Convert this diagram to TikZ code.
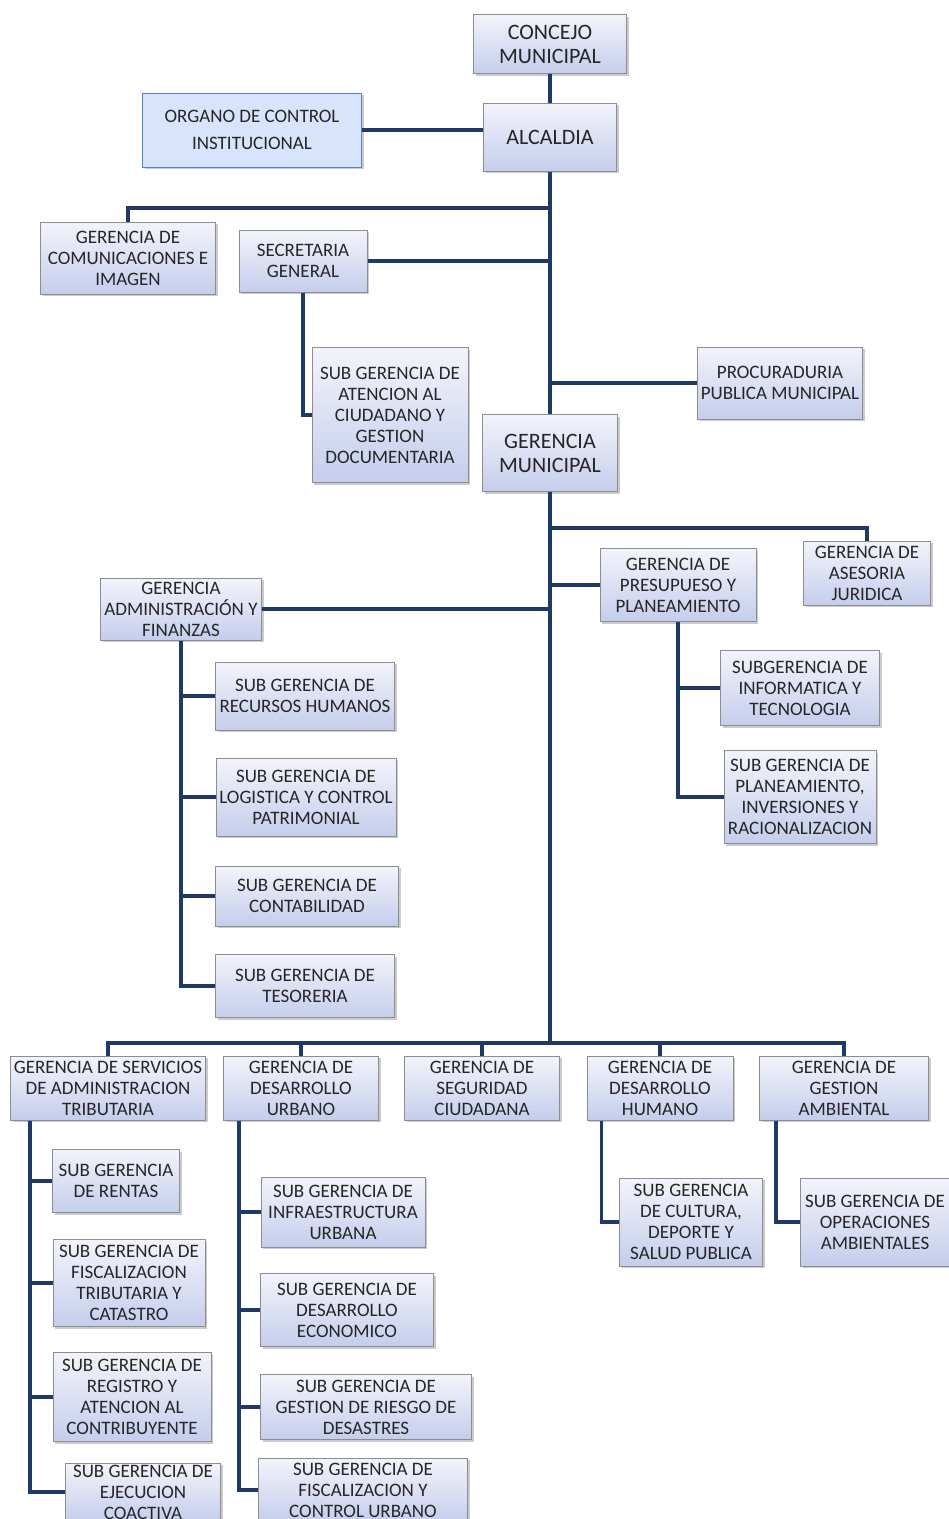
\documentclass[tikz,border=0pt]{standalone}
\usepackage{fontspec}
\setmainfont{Carlito}
\usepackage{tikz}
\usetikzlibrary{shadows}

\definecolor{navy}{RGB}{31,58,104}
\definecolor{boxtop}{RGB}{243,244,250}
\definecolor{boxbot}{RGB}{196,205,236}
\definecolor{boxline}{RGB}{140,140,145}
\definecolor{ocifill}{RGB}{216,228,251}
\definecolor{ociline}{RGB}{84,130,196}

\begin{document}
\begin{tikzpicture}[
            x = 1pt, y = -1pt, % pixel grid, top down
            line width = 3.5pt, % connector width
            semithick
        ]

        \tikzstyle{unit}=[
            draw = boxline,
            line width = 1pt,
            top color = boxtop,
            bottom color = boxbot,
            drop shadow = {shadow xshift=2pt, shadow yshift=-2pt, fill=black!40, opacity=.5},
            text = black!85,
            align = center,
            inner sep = 0pt,
            font = \fontsize{19}{21}\selectfont
        ]
        \tikzstyle{head}=[unit, font = \fontsize{22}{24}\selectfont]
        \tikzstyle{link}=[draw = navy, line width = 3.5pt]

        \clip (0,0) rectangle (949,1519);
        \fill[white] (0,0) rectangle (949,1519);

        % top of the chart
        \node[head, minimum width=153pt, minimum height=59pt] (concejo) at (550,44) {CONCEJO\\MUNICIPAL};
        \node[head, minimum width=133pt, minimum height=68pt] (alcaldia) at (550,137) {ALCALDIA};
        \node[unit, draw=ociline, top color=ocifill, bottom color=ocifill, font=\fontsize{19}{27}\selectfont,
              minimum width=219pt, minimum height=74pt] (organo) at (252,130) {ORGANO DE CONTROL\\INSTITUCIONAL};
        \node[unit, minimum width=175pt, minimum height=72pt] (comun) at (128,258) {GERENCIA DE\\COMUNICACIONES E\\IMAGEN};
        \node[unit, minimum width=128pt, minimum height=62pt] (secre) at (303,261) {SECRETARIA\\GENERAL};
        \node[unit, minimum width=156pt, minimum height=135pt] (atenc) at (390,415) {SUB GERENCIA DE\\ATENCION AL\\CIUDADANO Y\\GESTION\\DOCUMENTARIA};
        \node[unit, minimum width=165pt, minimum height=72pt] (procu) at (780,383) {PROCURADURIA\\PUBLICA MUNICIPAL};
        \node[head, minimum width=135pt, minimum height=77pt] (gmun) at (550,453) {GERENCIA\\MUNICIPAL};

        % second level
        \node[unit, minimum width=127pt, minimum height=64pt] (aseso) at (867,573) {GERENCIA DE\\ASESORIA\\JURIDICA};
        \node[unit, minimum width=156pt, minimum height=73pt] (presu) at (678,585) {GERENCIA DE\\PRESUPUESO Y\\PLANEAMIENTO};
        \node[unit, minimum width=161pt, minimum height=62pt] (admin) at (181,609) {GERENCIA\\ADMINISTRACIÓN Y\\FINANZAS};
        \node[unit, minimum width=159pt, minimum height=75pt] (infor) at (800,688) {SUBGERENCIA DE\\INFORMATICA Y\\TECNOLOGIA};
        \node[unit, minimum width=152pt, minimum height=93pt] (plane) at (800,797) {SUB GERENCIA DE\\PLANEAMIENTO,\\INVERSIONES Y\\RACIONALIZACION};
        \node[unit, minimum width=179pt, minimum height=68pt] (rrhh) at (305,696) {SUB GERENCIA DE\\RECURSOS HUMANOS};
        \node[unit, minimum width=180pt, minimum height=78pt] (logis) at (306,797) {SUB GERENCIA DE\\LOGISTICA Y CONTROL\\PATRIMONIAL};
        \node[unit, minimum width=183pt, minimum height=60pt] (conta) at (307,896) {SUB GERENCIA DE\\CONTABILIDAD};
        \node[unit, minimum width=179pt, minimum height=63pt] (teso) at (305,986) {SUB GERENCIA DE\\TESORERIA};

        % bottom row
        \node[unit, minimum width=195pt, minimum height=64pt] (tribu) at (108,1088) {GERENCIA DE SERVICIOS\\DE ADMINISTRACION\\TRIBUTARIA};
        \node[unit, minimum width=155pt, minimum height=64pt] (durb) at (301,1088) {GERENCIA DE\\DESARROLLO\\URBANO};
        \node[unit, minimum width=155pt, minimum height=64pt] (segu) at (482,1088) {GERENCIA DE\\SEGURIDAD\\CIUDADANA};
        \node[unit, minimum width=146pt, minimum height=64pt] (dhum) at (660,1088) {GERENCIA DE\\DESARROLLO\\HUMANO};
        \node[unit, minimum width=169pt, minimum height=64pt] (gamb) at (844,1088) {GERENCIA DE\\GESTION\\AMBIENTAL};

        \node[unit, minimum width=127pt, minimum height=63pt] (rentas) at (116,1181) {SUB GERENCIA\\DE RENTAS};
        \node[unit, minimum width=152pt, minimum height=87pt] (fisca) at (129,1283) {SUB GERENCIA DE\\FISCALIZACION\\TRIBUTARIA Y\\CATASTRO};
        \node[unit, minimum width=158pt, minimum height=89pt] (regis) at (132,1397) {SUB GERENCIA DE\\REGISTRO Y\\ATENCION AL\\CONTRIBUYENTE};
        \node[unit, minimum width=155pt, minimum height=58pt] (coact) at (143,1492) {SUB GERENCIA DE\\EJECUCION\\COACTIVA};
        \node[unit, minimum width=164pt, minimum height=70pt] (infra) at (343,1212) {SUB GERENCIA DE\\INFRAESTRUCTURA\\URBANA};
        \node[unit, minimum width=173pt, minimum height=73pt] (deco) at (347,1310) {SUB GERENCIA DE\\DESARROLLO\\ECONOMICO};
        \node[unit, minimum width=211pt, minimum height=65pt] (riesgo) at (366,1407) {SUB GERENCIA DE\\GESTION DE RIESGO DE\\DESASTRES};
        \node[unit, minimum width=209pt, minimum height=64pt] (fiscu) at (363,1490) {SUB GERENCIA DE\\FISCALIZACION Y\\CONTROL URBANO};
        \node[unit, minimum width=143pt, minimum height=88pt] (cultu) at (691,1222) {SUB GERENCIA\\DE CULTURA,\\DEPORTE Y\\SALUD PUBLICA};
        \node[unit, minimum width=149pt, minimum height=88pt] (opera) at (875,1222) {SUB GERENCIA DE\\OPERACIONES\\AMBIENTALES};

        % junctions on the trunk
        \coordinate (j1) at (550,208);
        \coordinate (j2) at (550,528);
        \coordinate (bus) at (550,1043);

        % trunk
        \path[link] (concejo.south) -- (alcaldia.north);
        \path[link] (alcaldia.south) -- (gmun.north);
        \path[link] (gmun.south) -- (bus);
        \path[link] (organo.east) -- (organo.east -| alcaldia.west);

        % branches
        \path[link] (comun.north) |- (j1);
        \path[link] (secre.east) -- (secre.east -| alcaldia.south);
        \path[link] (secre.south) |- (atenc.west);
        \path[link] (procu.west) -- (procu.west -| gmun.north);
        \path[link] (aseso.north) |- (j2);
        \path[link] (presu.west) -- (presu.west -| gmun.south);
        \path[link] (admin.east) -- (admin.east -| gmun.south);
        \path[link] (presu.south) |- (infor.west);
        \path[link] (presu.south) |- (plane.west);
        \path[link] (admin.south) |- (rrhh.west);
        \path[link] (admin.south) |- (logis.west);
        \path[link] (admin.south) |- (conta.west);
        \path[link] (admin.south) |- (teso.west);

        % bottom bus
        \path[link] (tribu.north) |- (bus);
        \path[link] (durb.north) |- (bus);
        \path[link] (segu.north) |- (bus);
        \path[link] (dhum.north) |- (bus);
        \path[link] (gamb.north) |- (bus);

        \path[link] ([xshift=20pt]tribu.south west) |- (rentas.west);
        \path[link] ([xshift=20pt]tribu.south west) |- (fisca.west);
        \path[link] ([xshift=20pt]tribu.south west) |- (regis.west);
        \path[link] ([xshift=20pt]tribu.south west) |- (coact.west);
        \path[link] ([xshift=16pt]durb.south west) |- (infra.west);
        \path[link] ([xshift=16pt]durb.south west) |- (deco.west);
        \path[link] ([xshift=16pt]durb.south west) |- (riesgo.west);
        \path[link] ([xshift=16pt]durb.south west) |- (fiscu.west);
        \path[link] ([xshift=15pt]dhum.south west) |- (cultu.west);
        \path[link] ([xshift=17pt]gamb.south west) |- (opera.west);

  \end{tikzpicture}
\end{document}
